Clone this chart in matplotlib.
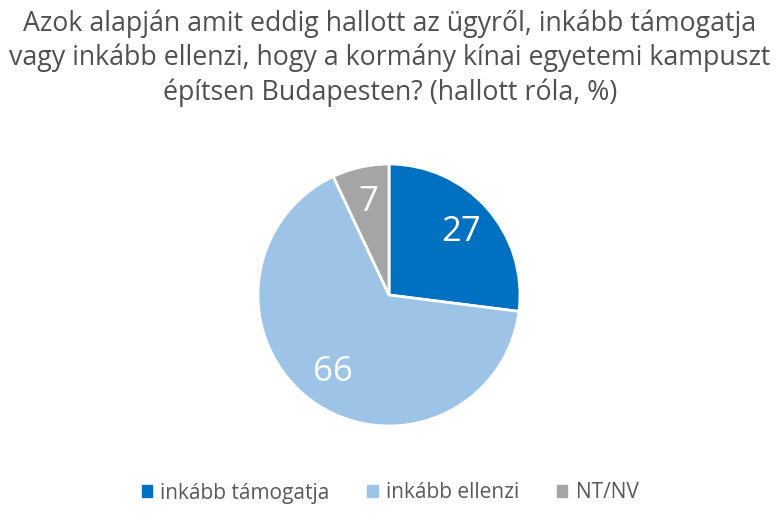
import matplotlib
matplotlib.use("Agg")
import matplotlib.pyplot as plt
from matplotlib.patches import Rectangle

labels = ["inkább támogatja", "inkább ellenzi", "NT/NV"]
values = [27, 66, 7]
colors = ["#0070C0", "#9DC3E6", "#A5A5A5"]
title = ("Azok alapján amit eddig hallott az ügyről, inkább támogatja\n"
         "vagy inkább ellenzi, hogy a kormány kínai egyetemi kampuszt\n"
         "építsen Budapesten? (hallott róla, %)")

plt.rcParams['font.family'] = ['Open Sans', 'DejaVu Sans']

fig = plt.figure(figsize=(7.8, 5.13), dpi=100)
fig.text(0.5, 0.982, title, ha='center', va='top', fontsize=19.3,
         color='#505050', linespacing=1.29)

# pie axes: center (389,295), radius 131 px
cx, cy, r = 389, 295, 131
W, H = 780, 513
ax = fig.add_axes([(cx - r) / W, 1 - (cy + r) / H, 2 * r / W, 2 * r / H])
wedges, texts = ax.pie(values, colors=colors, startangle=90, counterclock=False,
                       radius=1.0, labels=[str(v) for v in values],
                       labeldistance=0.73,
                       wedgeprops=dict(edgecolor='white', linewidth=2),
                       textprops=dict(color='white', fontsize=25, ha='center', va='center'))
for t in texts:
    t.set_ha('center'); t.set_va('center')
ax.set_xlim(-1, 1); ax.set_ylim(-1, 1)
ax.set_aspect('equal')

handles = [Rectangle((0, 0), 1, 1, color=c) for c in colors]
fig.legend(handles, labels, loc='center', bbox_to_anchor=(0.5, 1 - 493 / H),
           ncol=3, frameon=False, fontsize=15, handlelength=0.5, handleheight=0.5,
           handletextpad=0.4, columnspacing=1.8, labelcolor='#595959')

fig.savefig("out.png", dpi=100, facecolor='white')
